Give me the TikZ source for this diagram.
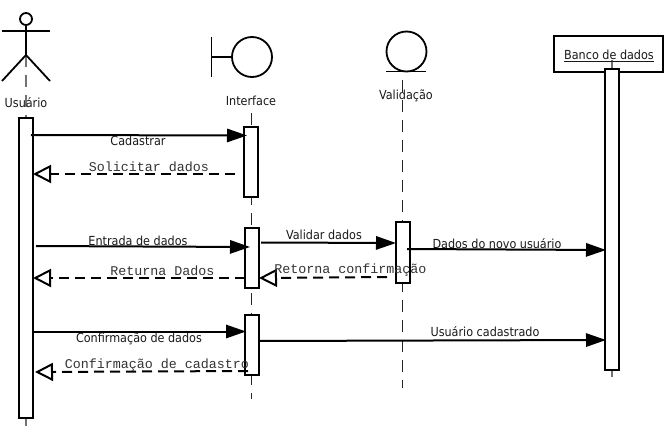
\documentclass[tikz,border=0pt]{standalone}
\usepackage{fontspec}
\setmainfont{DejaVu Sans Condensed}
\setmonofont{Liberation Mono}
\usetikzlibrary{arrows.meta}
\tikzset{
  x=0.75pt,y=-0.75pt,
  thin shape/.style={draw=black,line width=1.35pt},
  lifeline/.style={draw=black!85,line width=0.75pt,dash pattern=on 9pt off 6pt},
  grayline/.style={draw=black!55,line width=1pt,dash pattern=on 9pt off 6pt},
  actbox/.style={draw=black,line width=1.5pt,fill=white,minimum width=10.5pt,inner sep=0pt,outer sep=0pt},
  objbox/.style={draw=black,line width=1.5pt,fill=white,minimum width=82pt,minimum height=27pt,inner sep=0pt,outer sep=0pt},
  sync/.style={line width=1.5pt,-{Triangle[length=15pt,width=10pt,fill=black]}},
  reply/.style={line width=1.5pt,dash pattern=on 7.5pt off 4.5pt,-{Triangle[open,length=13.5pt,width=13.5pt,line width=1.5pt,fill=white]}},
  label/.style={inner sep=0pt,font=\fontsize{9.35}{10}\selectfont,text=black!90},
  mono/.style={inner sep=0pt,font=\fontsize{10}{10}\selectfont\ttfamily,text=black!80}
}
\begin{document}
\begin{tikzpicture}
\useasboundingbox (0,0) rectangle (664,428);
% lifelines
\coordinate (ut) at (26,55); \coordinate (ub) at (26,426);
\coordinate (it) at (251,113); \coordinate (ib) at (251,399);
\coordinate (vt) at (402.5,80); \coordinate (vb) at (402.5,388);
\coordinate (bt) at (612,60); \coordinate (bb) at (612,377);
\draw[grayline] (ut) -- (ub);
\draw[lifeline] (it) -- (ib);
\draw[lifeline] (vt) -- (vb);
% actor
\node[circle,thin shape,minimum size=9pt,inner sep=0pt,outer sep=0pt] (head) at (26,19) {};
\coordinate (hip) at (26,55);
\coordinate (arml) at (2,31); \coordinate (armr) at (50,31);
\coordinate (legl) at (2,81); \coordinate (legr) at (50,81);
\draw[thin shape] (head.south) -- (hip);
\draw[thin shape] (arml) -- (armr);
\draw[thin shape] (legl) -- (hip) -- (legr);
% boundary
\node[circle,thin shape,minimum size=30pt,inner sep=0pt,outer sep=0pt] (bound) at (252,57) {};
\coordinate (bv1) at (211.5,37); \coordinate (bv2) at (211.5,77); \coordinate (bm) at (211.5,57);
\draw[thin shape] (bv1) -- (bv2);
\draw[thin shape] (bm) -- (bound.west);
% entity
\node[circle,thin shape,minimum size=30pt,inner sep=0pt,outer sep=0pt] (ent) at (406.5,51.5) {};
\coordinate (e1) at (386,71.5); \coordinate (e2) at (426,71.5);
\draw[thin shape] (e1) -- (e2);
% object box
\node[objbox] (bd) at (608.5,54.5) {};
\draw[grayline,solid] (bt) -- (bb);
% activations
\node[actbox,minimum height=225pt] (au) at (26,267.5) {};
\node[actbox,minimum height=52.5pt] (ai1) at (251,162) {};
\node[actbox,minimum height=45pt] (ai2) at (252,258) {};
\node[actbox,minimum height=45pt] (ai3) at (252,345) {};
\node[actbox,minimum height=45.75pt] (av) at (402.5,252.5) {};
\node[actbox,minimum height=225.75pt] (ab) at (612,219.5) {};
% message end points
\coordinate (m1a) at (31,135);   \coordinate (m1b) at (247,135.5);
\coordinate (m2a) at (235,174);  \coordinate (m2b) at (33,174);
\coordinate (m3a) at (36,246);   \coordinate (m3b) at (250,247);
\coordinate (m4a) at (245,278);  \coordinate (m4b) at (33,278);
\coordinate (m5a) at (261,242.5);\coordinate (m5b) at (396,243);
\coordinate (m6a) at (387,277);  \coordinate (m6b) at (259,278);
\coordinate (m7a) at (407,249);  \coordinate (m7b) at (606,250);
\coordinate (m8a) at (32,331.5); \coordinate (m8b) at (246,331.5);
\coordinate (m9a) at (248,371);  \coordinate (m9b) at (35,372);
\coordinate (m10a) at (259,341); \coordinate (m10b) at (606,340);
\draw[sync] (m1a) -- (m1b);
\draw[reply] (m2a) -- (m2b);
\draw[sync] (m3a) -- (m3b);
\draw[reply] (m4a) -- (m4b);
\draw[sync] (m5a) -- (m5b);
\draw[reply] (m6a) -- (m6b);
\draw[sync] (m7a) -- (m7b);
\draw[sync] (m8a) -- (m8b);
\draw[reply] (m9a) -- (m9b);
\draw[sync] (m10a) -- (m10b);
% labels
\node[label] (lu) at (26,102.5) {Usuário};
\node[label] (li) at (251,101) {Interface};
\node[label] (lv) at (406,96) {Validação};
\node[label] (lb) at (609,56) {\underline{Banco de dados}};
\node[label] (t1) at (138,141) {Cadastrar};
\node[mono] (t2) at (149,166.5) {Solicitar dados};
\node[label] (t3) at (138,241) {Entrada de dados};
\node[mono] (t4) at (162.5,270.5) {Returna Dados};
\node[label] (t5) at (324,235) {Validar dados};
\node[mono] (t6) at (350.5,270.5) {Retorna confirmação};
\node[label] (t7) at (497,244) {Dados do novo usuário};
\node[label] (t8) at (139,338.5) {Confirmação de dados};
\node[mono] (t9) at (157,365) {Confirmação de cadastro};
\node[label] (t10) at (485,332) {Usuário cadastrado};
\end{tikzpicture}
\end{document}
